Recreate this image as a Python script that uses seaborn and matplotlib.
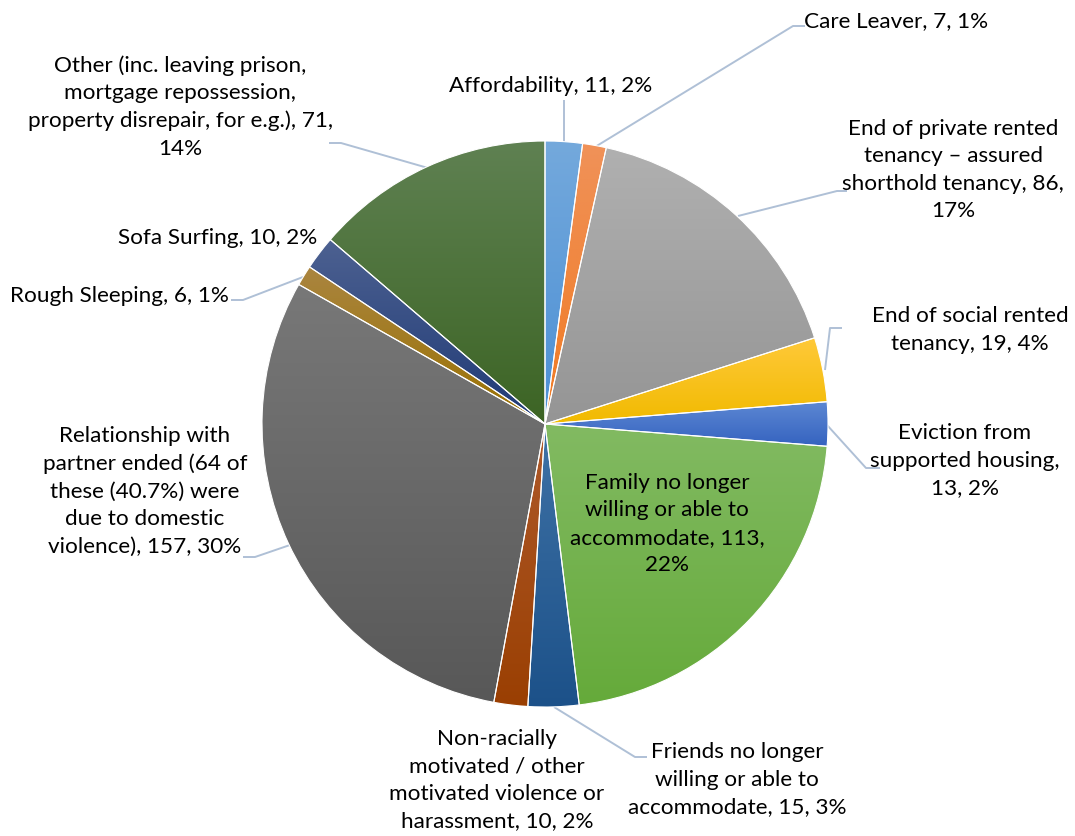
import numpy as np
import matplotlib
matplotlib.use("Agg")
import matplotlib.pyplot as plt
import seaborn as sns
from matplotlib.colors import LinearSegmentedColormap

# Reasons for homelessness (count of households) and the shown share of total
names = [
    "Affordability",
    "Care Leaver",
    "End of private rented\ntenancy \u2013 assured\nshorthold tenancy",
    "End of social rented\ntenancy",
    "Eviction from\nsupported housing",
    "Family no longer\nwilling or able to\naccommodate",
    "Friends no longer\nwilling or able to\naccommodate",
    "Non-racially\nmotivated / other\nmotivated violence or\nharassment",
    "Relationship with\npartner ended (64 of\nthese (40.7%) were\ndue to domestic\nviolence)",
    "Rough Sleeping",
    "Sofa Surfing",
    "Other (inc. leaving prison,\nmortgage repossession,\nproperty disrepair, for e.g.)",
]
counts = [11, 7, 86, 19, 13, 113, 15, 10, 157, 6, 10, 71]
shares = [2, 1, 17, 4, 2, 22, 3, 2, 30, 1, 2, 14]

# Gradient fill per slice: lighter tone at the top, base tone at the bottom
top_colors = ["#74A9DC", "#F09259", "#B0B0B0", "#FFC93A", "#5D88D3", "#82BA62",
              "#3F72A6", "#AE5A2B", "#787878", "#AA8540", "#4D6191", "#5F8152"]
bottom_colors = ["#4B8FD5", "#F07A22", "#959595", "#F1BA00", "#3563C0", "#65AA3A",
                 "#1C5189", "#9A3F02", "#585858", "#9A7100", "#1F3A76", "#3C6424"]

# Label layout: separators after the name and after the count, label centre (px),
# and leader-line vertices (px, measured from the top-left corner)
W, H = 1075, 836
seps = [(" ", " "), (" ", " "), (" ", "\n"), (" ", " "), ("\n", " "), (" ", "\n"),
        (" ", " "), (" ", " "), (" ", " "), (" ", " "), (" ", " "), (" ", "\n")]
label_pos = [(551, 86), (896, 21), (953, 170), (970, 330), (965, 461), (667, 524),
             (737, 780), (497, 780), (145, 491), (119, 296), (218, 238), (180, 107)]
leaders = [
    [(564, 100), (564, 143)],
    [(805, 26), (793, 26), (595, 147)],
    [(847, 191), (837, 191), (738, 216)],
    [(842, 328), (830, 328), (825, 370)],
    [(827, 425), (866, 468), (880, 468)],
    None,
    [(554, 707), (635, 757), (647, 757)],
    None,
    [(243, 557), (255, 557), (290, 545)],
    [(231, 300), (243, 300), (303, 277)],
    None,
    [(329, 143), (341, 143), (428, 168)],
]

sns.set_theme(style="white")
plt.rcParams["font.family"] = ["Lato", "DejaVu Sans"]

fig = plt.figure(figsize=(W / 100, H / 100), dpi=100)
ax = fig.add_axes([0, 0, 1, 1])

cx, cy, radius = 545, H - 424, 283
wedges, _ = ax.pie(
    counts,
    colors=bottom_colors,
    startangle=90,
    counterclock=False,
    radius=radius,
    center=(cx, cy),
    wedgeprops=dict(edgecolor="white", linewidth=0.8, zorder=3),
)

# Vertical gradient in each wedge, clipped to the wedge outline
grad = np.linspace(0, 1, 256).reshape(-1, 1)
for w, c_top, c_bot in zip(wedges, top_colors, bottom_colors):
    w.set_facecolor("none")
    ext = w.get_path().get_extents()
    cmap = LinearSegmentedColormap.from_list("g", [c_bot, c_top])
    im = ax.imshow(grad, cmap=cmap, origin="lower", aspect="auto",
                   extent=[ext.x0, ext.x1, ext.y0, ext.y1], zorder=2,
                   interpolation="bilinear")
    im.set_clip_path(w)

for name, n, p, (s1, s2), (lx, ly), lead in zip(names, counts, shares, seps,
                                                 label_pos, leaders):
    ax.text(lx, H - ly, f"{name},{s1}{n},{s2}{p}%", ha="center", va="center",
            fontsize=16.2, color="black", linespacing=1.47, zorder=5)
    if lead:
        xs = [q[0] for q in lead]
        ys = [H - q[1] for q in lead]
        ax.plot(xs, ys, color="#AFC0D6", lw=1.4, zorder=1, solid_capstyle="butt")

ax.set_xlim(0, W)
ax.set_ylim(0, H)
ax.set_aspect("equal")
ax.axis("off")

fig.savefig("out.png", dpi=100, facecolor="white")
